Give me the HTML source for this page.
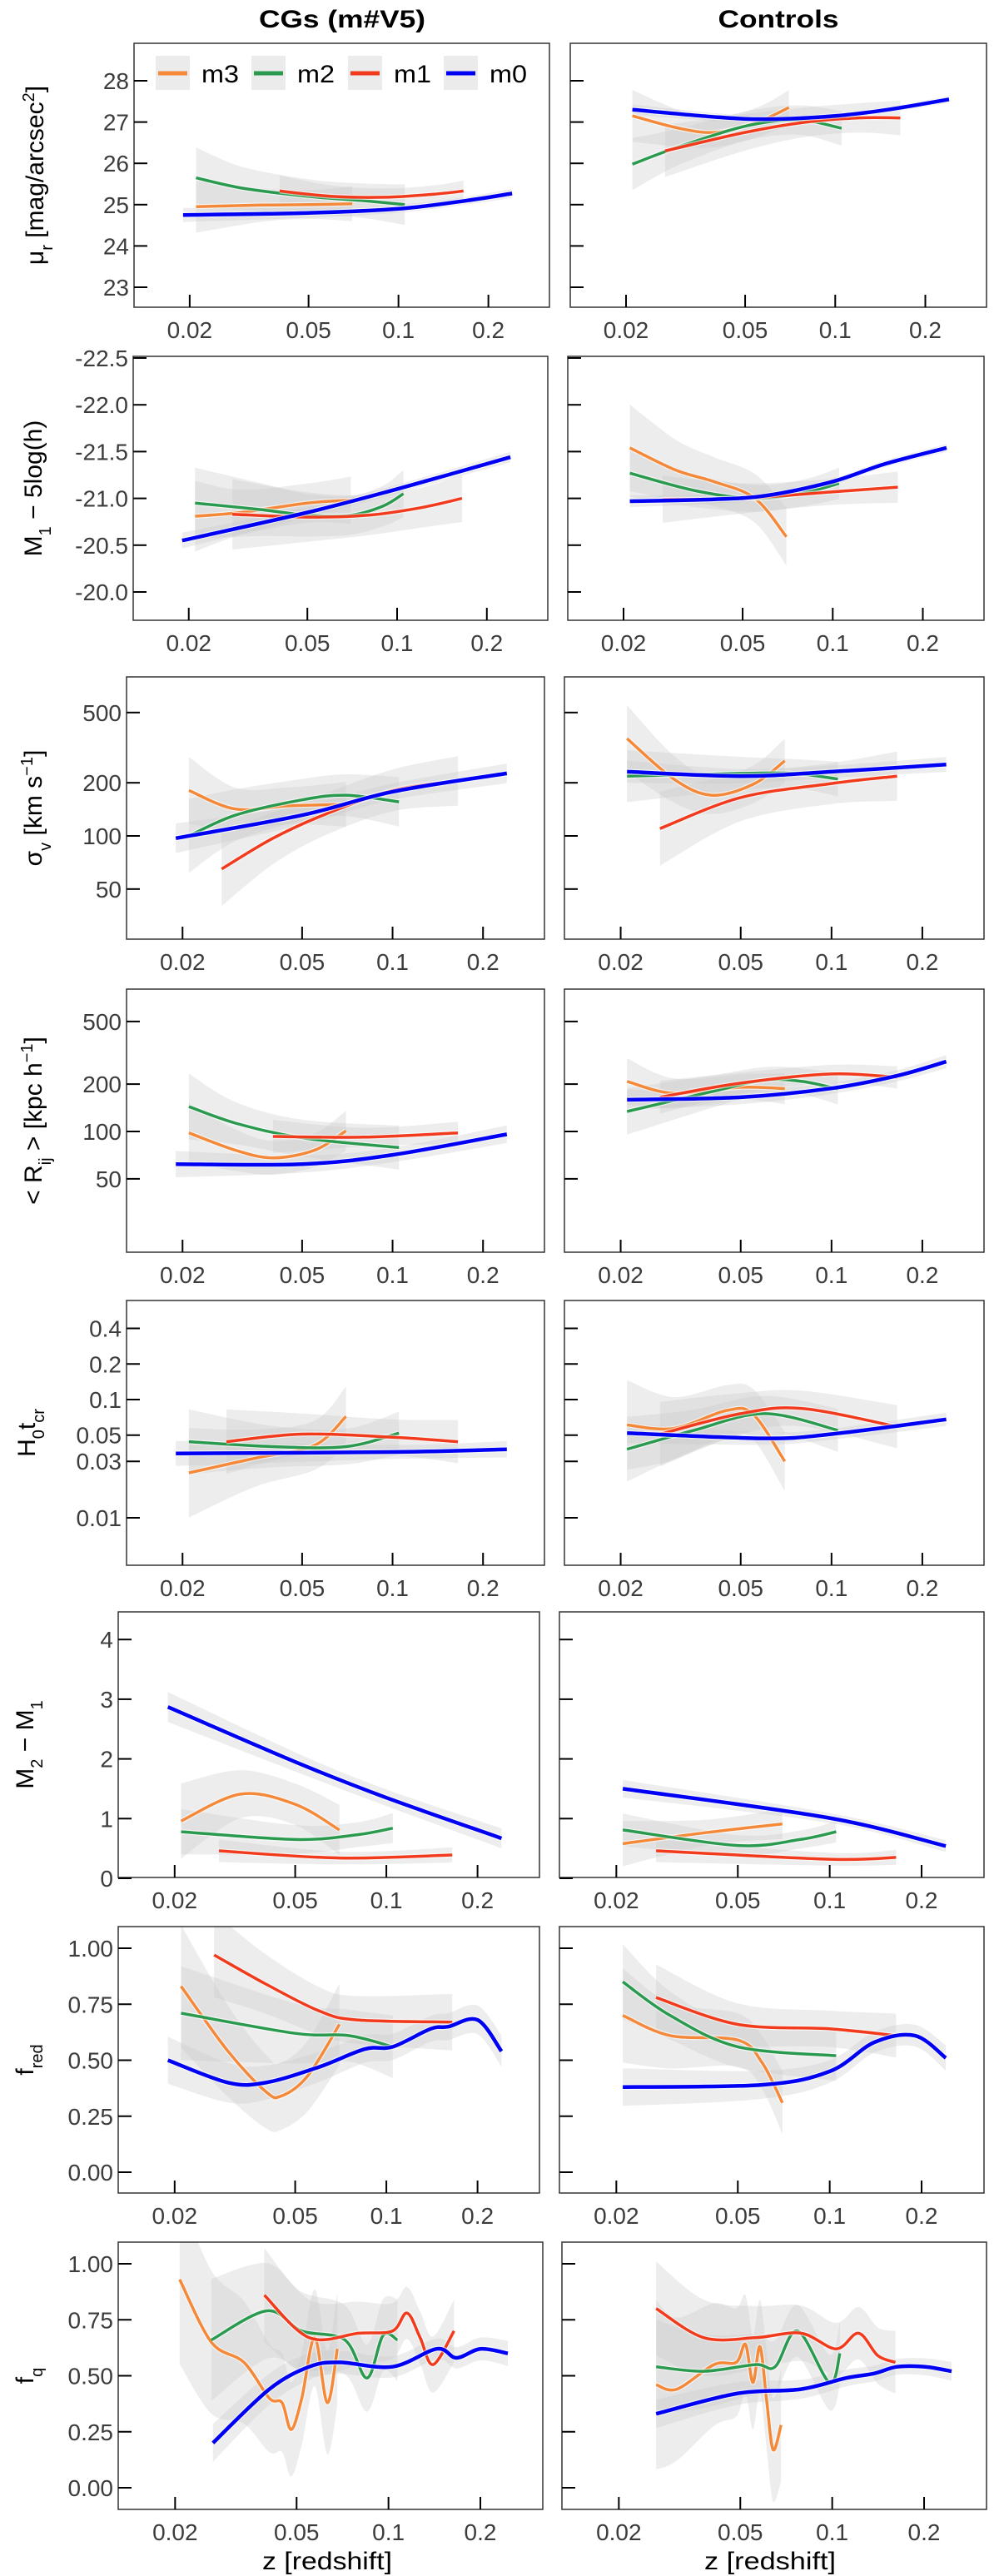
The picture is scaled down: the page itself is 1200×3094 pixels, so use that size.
<!DOCTYPE html>
<html><head><meta charset="utf-8"><title>Group properties vs redshift</title>
<style>
html,body{margin:0;padding:0;background:#fff;}
svg{display:block;font-family:"Liberation Sans",sans-serif;}
</style></head>
<body>
<svg id="chart" width="1200" height="3094" viewBox="0 0 1200 3094" xmlns="http://www.w3.org/2000/svg">
<text x="411" y="33" text-anchor="middle" font-size="30" font-weight="bold" fill="#000" textLength="200" lengthAdjust="spacingAndGlyphs">CGs (m#V5)</text>
<text x="935" y="33" text-anchor="middle" font-size="30" font-weight="bold" fill="#000" textLength="145" lengthAdjust="spacingAndGlyphs">Controls</text>
<text x="393" y="3086" text-anchor="middle" font-size="30" fill="#000" textLength="156" lengthAdjust="spacingAndGlyphs">z [redshift]</text>
<text x="925" y="3086" text-anchor="middle" font-size="30" fill="#000" textLength="158" lengthAdjust="spacingAndGlyphs">z [redshift]</text>
</svg>
<script>
// ---- data: [z, value] pairs ----
// Row 1: mu_r
const r1L_m3=[[0.021,24.95],[0.035,24.99],[0.05,25.0],[0.07,25.02]];
const r1L_m2=[[0.021,25.65],[0.03,25.4],[0.05,25.2],[0.075,25.1],[0.105,25.0]];
const r1L_m1=[[0.04,25.33],[0.06,25.2],[0.09,25.18],[0.13,25.25],[0.165,25.33]];
const r1L_m0=[[0.019,24.75],[0.05,24.8],[0.1,24.9],[0.17,25.1],[0.24,25.27]];
const r1R_m3=[[0.021,27.15],[0.03,26.85],[0.04,26.75],[0.055,27.0],[0.07,27.35]];
const r1R_m2=[[0.021,25.98],[0.03,26.4],[0.05,26.9],[0.075,27.05],[0.105,26.85]];
const r1R_m1=[[0.027,26.3],[0.05,26.75],[0.08,27.0],[0.12,27.1],[0.165,27.1]];
const r1R_m0=[[0.021,27.3],[0.04,27.12],[0.06,27.07],[0.1,27.15],[0.15,27.3],[0.24,27.55]];
// Row 2: M1 - 5log(h)
const r2L_m3=[[0.021,-20.81],[0.03,-20.85],[0.05,-20.95],[0.07,-20.98]];
const r2L_m2=[[0.021,-20.95],[0.035,-20.88],[0.05,-20.82],[0.07,-20.82],[0.09,-20.92],[0.105,-21.05]];
const r2L_m1=[[0.028,-20.83],[0.05,-20.8],[0.08,-20.82],[0.12,-20.9],[0.165,-21.0]];
const r2L_m0=[[0.019,-20.55],[0.05,-20.85],[0.1,-21.1],[0.24,-21.44]];
const r2R_m3=[[0.021,-21.54],[0.03,-21.3],[0.04,-21.18],[0.055,-21.0],[0.07,-20.59]];
const r2R_m2=[[0.021,-21.27],[0.035,-21.08],[0.055,-21.0],[0.08,-21.06],[0.105,-21.16]];
const r2R_m1=[[0.027,-20.99],[0.05,-21.0],[0.1,-21.07],[0.165,-21.12]];
const r2R_m0=[[0.021,-20.97],[0.04,-20.99],[0.06,-21.03],[0.1,-21.18],[0.15,-21.37],[0.24,-21.54]];
// Row 3: sigma_v
const r3L_m3=[[0.021,181],[0.03,142],[0.045,148],[0.07,151]];
const r3L_m2=[[0.021,100],[0.03,131],[0.05,160],[0.07,170],[0.105,156]];
const r3L_m1=[[0.027,65],[0.04,97],[0.06,133],[0.1,181],[0.165,205]];
const r3L_m0=[[0.019,97],[0.05,131],[0.1,178],[0.24,226]];
const r3R_m3=[[0.021,356],[0.03,210],[0.04,170],[0.055,196],[0.07,266]];
const r3R_m2=[[0.021,218],[0.05,226],[0.075,226],[0.105,210]];
const r3R_m1=[[0.027,110],[0.05,165],[0.1,198],[0.165,218]];
const r3R_m0=[[0.021,231],[0.05,218],[0.1,231],[0.24,254]];
// Row 4: <R_ij>
const r4L_m3=[[0.021,98],[0.03,76],[0.04,68],[0.055,76],[0.07,101]];
const r4L_m2=[[0.021,144],[0.03,113],[0.05,91],[0.105,79]];
const r4L_m1=[[0.04,93],[0.08,92],[0.165,98]];
const r4L_m0=[[0.019,62],[0.05,62],[0.1,71],[0.24,96]];
const r4R_m3=[[0.021,208],[0.03,175],[0.05,191],[0.07,187]];
const r4R_m2=[[0.021,134],[0.04,179],[0.06,212],[0.08,208],[0.105,186]];
const r4R_m1=[[0.027,165],[0.05,203],[0.1,232],[0.165,221]];
const r4R_m0=[[0.021,159],[0.05,165],[0.1,188],[0.165,226],[0.24,278]];
// Row 5: H0 t_cr
const r5L_m3=[[0.021,0.024],[0.035,0.032],[0.055,0.041],[0.07,0.072]];
const r5L_m2=[[0.021,0.044],[0.04,0.040],[0.07,0.040],[0.105,0.052]];
const r5L_m1=[[0.028,0.044],[0.05,0.051],[0.1,0.048],[0.165,0.044]];
const r5L_m0=[[0.019,0.035],[0.1,0.036],[0.24,0.038]];
const r5R_m3=[[0.021,0.061],[0.03,0.057],[0.045,0.081],[0.055,0.075],[0.07,0.030]];
const r5R_m2=[[0.021,0.038],[0.035,0.055],[0.06,0.076],[0.105,0.055]];
const r5R_m1=[[0.027,0.051],[0.05,0.076],[0.08,0.084],[0.165,0.059]];
const r5R_m0=[[0.021,0.052],[0.06,0.047],[0.1,0.051],[0.24,0.068]];
// Row 6: M2 - M1
const r6L_m3=[[0.021,0.96],[0.033,1.41],[0.05,1.24],[0.07,0.81]];
const r6L_m2=[[0.021,0.78],[0.05,0.65],[0.08,0.73],[0.105,0.84]];
const r6L_m1=[[0.028,0.46],[0.07,0.34],[0.165,0.39]];
const r6L_m0=[[0.019,2.87],[0.05,1.95],[0.1,1.35],[0.24,0.67]];
const r6R_m3=[[0.021,0.58],[0.04,0.77],[0.07,0.91]];
const r6R_m2=[[0.021,0.81],[0.05,0.55],[0.08,0.65],[0.105,0.78]];
const r6R_m1=[[0.027,0.46],[0.1,0.32],[0.165,0.35]];
const r6R_m0=[[0.021,1.5],[0.1,1.01],[0.24,0.54]];
// Row 7: f_red
const r7L_m3=[[0.021,0.83],[0.03,0.54],[0.04,0.36],[0.045,0.34],[0.055,0.43],[0.07,0.66]];
const r7L_m2=[[0.021,0.71],[0.05,0.62],[0.075,0.61],[0.105,0.56]];
const r7L_m1=[[0.027,0.97],[0.04,0.84],[0.06,0.72],[0.08,0.68],[0.165,0.67]];
const r7L_m0=[[0.019,0.50],[0.03,0.40],[0.04,0.40],[0.06,0.47],[0.085,0.55],[0.105,0.56],[0.14,0.64],[0.16,0.65],[0.2,0.68],[0.24,0.54]];
const r7R_m3=[[0.021,0.70],[0.03,0.61],[0.05,0.59],[0.06,0.49],[0.07,0.31]];
const r7R_m2=[[0.021,0.85],[0.03,0.70],[0.05,0.56],[0.105,0.52]];
const r7R_m1=[[0.027,0.78],[0.05,0.66],[0.1,0.64],[0.165,0.61]];
const r7R_m0=[[0.021,0.38],[0.06,0.39],[0.1,0.45],[0.14,0.58],[0.19,0.61],[0.24,0.51]];
// Row 8: f_q
const r8L_m3=[[0.0207,0.93],[0.0263,0.65],[0.0336,0.56],[0.0407,0.40],[0.0448,0.38],[0.048,0.26],[0.052,0.40],[0.0573,0.67],[0.063,0.38],[0.068,0.62]];
const r8L_m2=[[0.0263,0.66],[0.04,0.79],[0.052,0.70],[0.072,0.66],[0.085,0.49],[0.096,0.68],[0.107,0.66]];
const r8L_m1=[[0.0392,0.86],[0.055,0.67],[0.08,0.69],[0.103,0.70],[0.115,0.78],[0.127,0.67],[0.14,0.55],[0.164,0.70]];
const r8L_m0=[[0.0266,0.20],[0.0407,0.44],[0.055,0.54],[0.069,0.56],[0.103,0.54],[0.144,0.62],[0.167,0.58],[0.2,0.62],[0.246,0.60]];
const r8R_m3=[[0.0265,0.46],[0.031,0.44],[0.041,0.55],[0.0485,0.56],[0.052,0.64],[0.055,0.47],[0.058,0.63],[0.061,0.39],[0.064,0.17],[0.068,0.28]];
const r8R_m2=[[0.0265,0.54],[0.038,0.52],[0.056,0.55],[0.065,0.54],[0.077,0.70],[0.098,0.47],[0.106,0.60]];
const r8R_m1=[[0.0265,0.80],[0.038,0.67],[0.056,0.67],[0.079,0.69],[0.103,0.62],[0.122,0.69],[0.141,0.59],[0.161,0.56]];
const r8R_m0=[[0.0265,0.33],[0.0485,0.42],[0.079,0.44],[0.111,0.49],[0.137,0.51],[0.163,0.54],[0.202,0.54],[0.246,0.52]];

// Legend / categories
const seriesNames=['m3','m2','m1','m0'];
const seriesColors=['#f5893a','#2a9a4f','#f23a1c','#0000f5'];
const xTickValues=[0.02,0.05,0.1,0.2];
const xTickLabels=['0.02','0.05','0.1','0.2'];
const yTicks1=[23,24,25,26,27,28];
const yTicks2=[-22.5,-22,-21.5,-21,-20.5,-20];
const yTicks3=[50,100,200,500];
const yTicks4=[50,100,200,500];
const yTicks5=[0.01,0.03,0.05,0.1,0.2,0.4];
const yTicks6=[0,1,2,3,4];
const yTicks7=[0,0.25,0.5,0.75,1];
const yTicks8=[0,0.25,0.5,0.75,1];
const yLabels1=['23','24','25','26','27','28'];
const yLabels2=['-22.5','-22.0','-21.5','-21.0','-20.5','-20.0'];
const yLabels3=['50','100','200','500'];
const yLabels4=['50','100','200','500'];
const yLabels5=['0.01','0.03','0.05','0.1','0.2','0.4'];
const yLabels6=['0','1','2','3','4'];
const yLabels7=['0.00','0.25','0.50','0.75','1.00'];
const yLabels8=['0.00','0.25','0.50','0.75','1.00'];
// band half-widths per series [m3,m2,m1,m0] (value units, or dex on log rows)
const band1L=[0.3,0.35,0.18,0.08], band1R=[0.3,0.3,0.3,0.06];
const band2L=[0.18,0.18,0.18,0.04], band2R=[0.22,0.12,0.12,0.03];
const band3L=[0.09,0.1,0.1,0.04], band3R=[0.09,0.07,0.1,0.03];
const band4L=[0.09,0.1,0.05,0.04], band4R=[0.07,0.07,0.05,0.03];
const band5L=[0.18,0.13,0.13,0.05], band5R=[0.18,0.13,0.13,0.04];
const band6L=[0.3,0.18,0.09,0.12], band6R=[0.18,0.13,0.09,0.07];
const band7L=[0.13,0.1,0.09,0.05], band7R=[0.1,0.08,0.07,0.04];
const band8L=[0.18,0.13,0.1,0.04], band8R=[0.18,0.1,0.1,0.03];

const rowData=[
 [[r1L_m3,r1L_m2,r1L_m1,r1L_m0],[r1R_m3,r1R_m2,r1R_m1,r1R_m0],yTicks1,yLabels1,band1L,band1R],
 [[r2L_m3,r2L_m2,r2L_m1,r2L_m0],[r2R_m3,r2R_m2,r2R_m1,r2R_m0],yTicks2,yLabels2,band2L,band2R],
 [[r3L_m3,r3L_m2,r3L_m1,r3L_m0],[r3R_m3,r3R_m2,r3R_m1,r3R_m0],yTicks3,yLabels3,band3L,band3R],
 [[r4L_m3,r4L_m2,r4L_m1,r4L_m0],[r4R_m3,r4R_m2,r4R_m1,r4R_m0],yTicks4,yLabels4,band4L,band4R],
 [[r5L_m3,r5L_m2,r5L_m1,r5L_m0],[r5R_m3,r5R_m2,r5R_m1,r5R_m0],yTicks5,yLabels5,band5L,band5R],
 [[r6L_m3,r6L_m2,r6L_m1,r6L_m0],[r6R_m3,r6R_m2,r6R_m1,r6R_m0],yTicks6,yLabels6,band6L,band6R],
 [[r7L_m3,r7L_m2,r7L_m1,r7L_m0],[r7R_m3,r7R_m2,r7R_m1,r7R_m0],yTicks7,yLabels7,band7L,band7R],
 [[r8L_m3,r8L_m2,r8L_m1,r8L_m0],[r8R_m3,r8R_m2,r8R_m1,r8R_m0],yTicks8,yLabels8,band8L,band8R]
];

// ---- layout (pixel geometry) ----
const layout=[
 {key:'mu-r',y0:52,y1:369,L:[161,660],R:[685,1185],type:'lin',ref:28,px:97,k:49.6,lx:42},
 {key:'m1-abs-mag',y0:428,y1:745,L:[160,658],R:[682,1182],type:'lin',ref:-22.5,px:430,k:-112.4,lx:40},
 {key:'sigma-v',y0:813,y1:1128,L:[152,654],R:[678,1182],type:'log',ref:100,px:1004,k:212,lx:40},
 {key:'r-ij',y0:1188,y1:1504,L:[152,654],R:[678,1182],type:'log',ref:100,px:1359,k:189,lx:40},
 {key:'h0-tcr',y0:1562,y1:1880,L:[152,654],R:[678,1182],type:'log',ref:0.1,px:1681,k:142,lx:32},
 {key:'m2-m1',y0:1936,y1:2255,L:[142,648],R:[672,1182],type:'lin',ref:0,px:2256,k:71.7,lx:30},
 {key:'f-red',y0:2314,y1:2634,L:[142,648],R:[672,1182],type:'lin',ref:0,px:2609,k:269,lx:30},
 {key:'f-q',y0:2693,y1:3014,L:[142,652],R:[675,1185],type:'lin',ref:0,px:2988,k:269,lx:30}
];
const yTitles=[
 [['μ',0],['r',1],[' [mag/arcsec',0],['2',2],[']',0]],
 [['M',0],['1',1],[' − 5log(h)',0]],
 [['σ',0],['v',1],[' [km  s',0],['−1',2],[']',0]],
 [['< R',0],['ij',1],[' > [kpc h',0],['−1',2],[']',0]],
 [['H',0],['0',1],['t',0],['cr',1]],
 [['M',0],['2',1],['  −  M',0],['1',1]],
 [['f',0],['red',1]],
 [['f',0],['q',1]]
];

const NS='http://www.w3.org/2000/svg';
const svg=document.getElementById('chart');
function el(tag,attrs,parent){const e=document.createElementNS(NS,tag);for(const k in attrs)e.setAttribute(k,attrs[k]);(parent||svg).appendChild(e);return e;}

function xScale(z,x0,x1){return x0+(0.134+0.719*Math.log10(z/0.02))*(x1-x0);}
function yScale(v,row){
  if(row.type==='log') return row.px-(Math.log10(v)-Math.log10(row.ref))*row.k;
  return row.px-(v-row.ref)*row.k;
}
function bandVal(v,hw,row,sign){return row.type==='log'? v*Math.pow(10,sign*hw) : v+sign*hw;}
function smoothPath(pts){
  if(pts.length<2) return '';
  let d='M'+pts[0][0].toFixed(1)+','+pts[0][1].toFixed(1);
  for(let i=0;i<pts.length-1;i++){
    const p0=pts[i-1]||pts[i],p1=pts[i],p2=pts[i+1],p3=pts[i+2]||p2;
    const c1=[p1[0]+(p2[0]-p0[0])/6,p1[1]+(p2[1]-p0[1])/6];
    const c2=[p2[0]-(p3[0]-p1[0])/6,p2[1]-(p3[1]-p1[1])/6];
    d+=' C'+c1[0].toFixed(1)+','+c1[1].toFixed(1)+' '+c2[0].toFixed(1)+','+c2[1].toFixed(1)+' '+p2[0].toFixed(1)+','+p2[1].toFixed(1);
  }
  return d;
}

layout.forEach((row,ri)=>{
  const [dataL,dataR,yt,yl,bL,bR]=rowData[ri];
  ['L','R'].forEach(side=>{
    const [x0,x1]=row[side];
    const data= side==='L'?dataL:dataR;
    const bands= side==='L'?bL:bR;
    const sideName= side==='L'?'cgs':'controls';
    const g=el('g',{});
    
    
    const cid='clip'+ri+side;
    const cp=el('clipPath',{id:cid},g);
    el('rect',{x:x0,y:row.y0,width:x1-x0,height:row.y1-row.y0},cp);
    const plot=el('g',{'clip-path':'url(#'+cid+')'},g);
    // bands
    data.forEach((ser,si)=>{
      const n=ser.length;
      const up=[],lo=[];
      ser.forEach((p,i)=>{
        const t=n>1?i/(n-1):0;
        const flare=1+1.1*Math.pow(1-t,3)+0.4*Math.pow(t,3);
        const hw=bands[si]*flare;
        up.push([xScale(p[0],x0,x1),yScale(bandVal(p[1],hw,row,1),row)]);
        lo.push([xScale(p[0],x0,x1),yScale(bandVal(p[1],hw,row,-1),row)]);
      });
      const d=smoothPath(up)+' L'+smoothPath(lo.slice().reverse()).slice(1)+' Z';
      const b=el('path',{d:d,fill:'#c8c8c8','fill-opacity':0.33,stroke:'none'},plot);
      
      
    });
    // lines
    data.forEach((ser,si)=>{
      const pts=ser.map(p=>[xScale(p[0],x0,x1),yScale(p[1],row)]);
      const d=smoothPath(pts);
      el('path',{d:d,fill:'none',stroke:'#fff','stroke-opacity':0.6,'stroke-width':si===3?7:6,'stroke-linecap':'butt'},plot);
      const l=el('path',{d:d,fill:'none',stroke:seriesColors[si],'stroke-width':si===3?4.5:3.5,'stroke-linecap':'butt','stroke-linejoin':'round'},plot);
      
      
    });
    // frame
    const fr=el('rect',{x:x0,y:row.y0,width:x1-x0,height:row.y1-row.y0,fill:'none',stroke:'#333','stroke-width':1.5},g);
    
    
    // x ticks
    xTickValues.forEach((z,i)=>{
      const x=xScale(z,x0,x1);
      el('line',{x1:x,x2:x,y1:row.y1,y2:row.y1-15,stroke:'#000','stroke-width':2},g);
      const t=el('text',{x:x,y:row.y1+37,'text-anchor':'middle','font-size':28,fill:'#3c3c3c'},g);
      t.textContent=xTickLabels[i];
      
      
    });
    // y ticks
    yt.forEach((v,i)=>{
      const y=yScale(v,row);
      el('line',{x1:x0,x2:x0+16,y1:y,y2:y,stroke:'#000','stroke-width':2},g);
      if(side==='L'){
        const t=el('text',{x:x0-6,y:y+10,'text-anchor':'end','font-size':28,fill:'#3c3c3c'},g);
        t.textContent=yl[i];
        
        
      }
    });
  });
  // y title
  const cy=(row.y0+row.y1)/2;
  const tt=el('text',{x:0,y:0,transform:'translate('+(row.lx+10)+','+cy+') rotate(-90)','text-anchor':'middle','font-size':30,fill:'#000'});
  
  
  yTitles[ri].forEach(([s,kind])=>{
    const sp=el('tspan',{},tt);
    if(kind===1){sp.setAttribute('font-size','20');sp.setAttribute('baseline-shift','sub');}
    if(kind===2){sp.setAttribute('font-size','20');sp.setAttribute('baseline-shift','super');}
    sp.textContent=s;
  });
});

// legend (top-left panel)
const legX=[187,302,418,533];
seriesNames.forEach((nm,i)=>{
  const g=el('g',{});
  
  
  el('rect',{x:legX[i],y:67,width:41,height:41,fill:'#ebebeb'},g);
  el('line',{x1:legX[i]+3,x2:legX[i]+38,y1:88,y2:88,stroke:seriesColors[i],'stroke-width':5},g);
  const t=el('text',{x:legX[i]+55,y:99,'font-size':30,fill:'#000',textLength:45,lengthAdjust:'spacingAndGlyphs'},g);
  t.textContent=nm;
});
</script>
</body></html>
